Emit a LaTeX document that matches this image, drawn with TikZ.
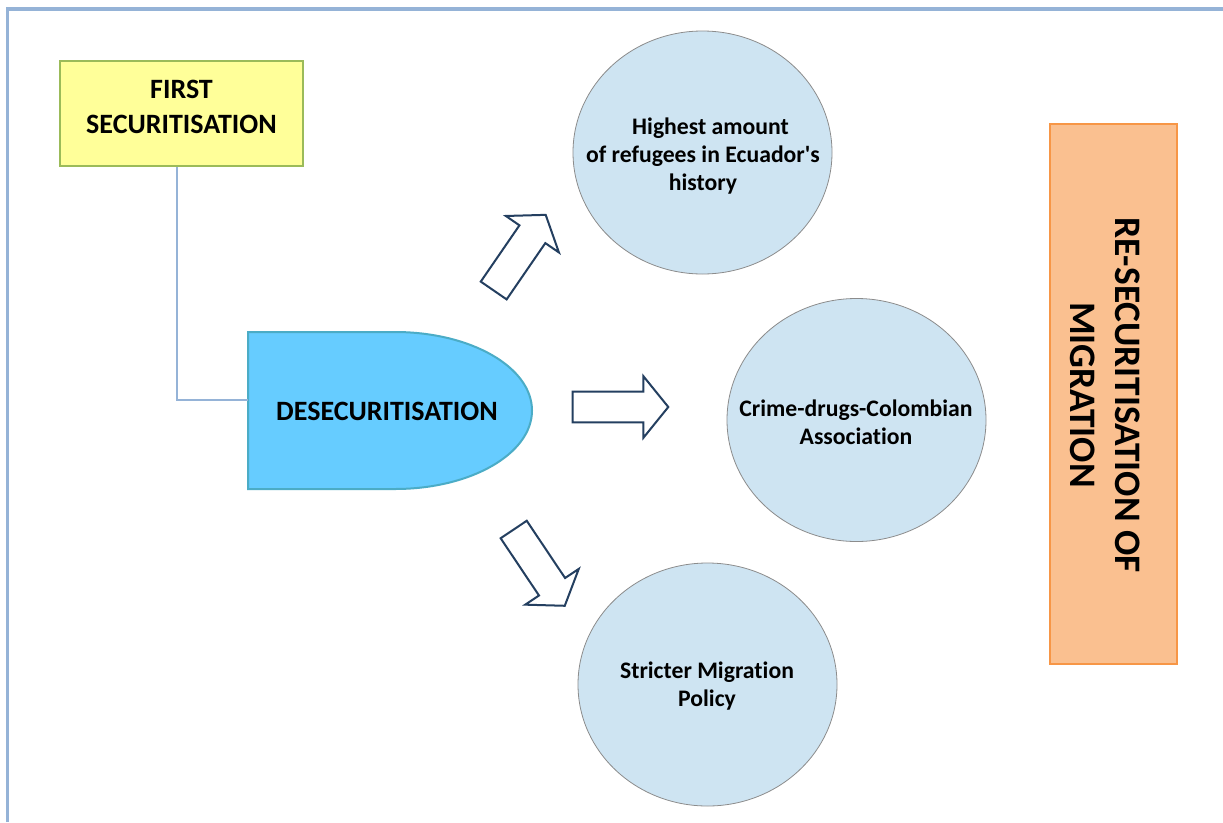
\documentclass[tikz,border=0pt]{standalone}
\usepackage{fontspec}
\setmainfont{Carlito}[Ligatures={TeXOff,NoCommon}]
\usetikzlibrary{shapes.geometric}
\definecolor{framecol}{HTML}{95B3D7}
\definecolor{yfill}{HTML}{FFFF99}
\definecolor{ygreen}{HTML}{9BBB59}
\definecolor{dfill}{HTML}{66CCFF}
\definecolor{dborder}{HTML}{4BACC6}
\definecolor{bubfill}{RGB}{206,228,242}
\definecolor{bubborder}{HTML}{8C8C8C}
\definecolor{ofill}{HTML}{FAC090}
\definecolor{oborder}{HTML}{F79646}
\definecolor{navy}{HTML}{243F60}
\newcommand{\blkarrow}[6]{\draw[barrow, shift={(#1)}, rotate=#2] (0,-#4) -- (#3,-#4) -- (#3,-#5) -- ({#3+#6},0) -- (#3,#5) -- (#3,#4) -- (0,#4) -- cycle;}
\tikzset{
  framestyle/.style={draw=framecol, line width=3.5},
  conn/.style={draw=framecol, line width=2},
  firstbox/.style={draw=ygreen, fill=yfill, line width=2.5, minimum width=243, minimum height=105, inner sep=0},
  bigtxt/.style={font=\fontsize{28}{35}\selectfont\bfseries, align=center, inner sep=0},
  desecshape/.style={draw=dborder, fill=dfill, line width=2},
  bub/.style={ellipse, draw=bubborder, fill=bubfill, line width=0.8, minimum width=259, minimum height=243, inner sep=0},
  bubtxt/.style={font=\fontsize{23.7}{28}\selectfont\bfseries, align=center, inner sep=0},
  obox/.style={draw=oborder, fill=ofill, line width=2.5, minimum width=127, minimum height=540, inner sep=0},
  otxt/.style={font=\fontsize{37.4}{45}\selectfont\bfseries, align=center, inner sep=0, rotate=-90},
  barrow/.style={draw=navy, fill=white, line width=2, line join=miter}
}
\begin{document}
\begin{tikzpicture}[x=1pt,y=-1pt]
\useasboundingbox (0,0) rectangle (1223,822);
\fill[white] (0,0) rectangle (1223,822);
\draw[framestyle] (7.3,822) -- (7.3,9.2) -- (1223,9.2);

% first securitisation
\node[firstbox] (first) at (181.5,113.5) {};
\node[bigtxt] (firstlbl) at (181.5,107) {FIRST\\SECURITISATION};

% desecuritisation
\draw[desecshape] (248,332) -- (395,332) arc[start angle=-90, end angle=90, x radius=137, y radius=78.5] -- (248,489) -- cycle;
\node[minimum width=283, minimum height=157, inner sep=0] (desec) at (389.5,410.5) {};
\node[bigtxt] (desectxt) at (387,411) {DESECURITISATION};

\draw[conn] ([xshift=-4.8pt]first.south) |- ([yshift=10.5pt]desec.west);

% bubbles
\node[bub] (c1) at (702.5,152.5) {};
\node[bubtxt] (t1) at (703,156) {\hspace*{15pt}Highest amount\\of refugees in Ecuador's\\history};
\node[bub] (c2) at (856.5,420) {};
\node[bubtxt] (t2) at (856,422) {Crime-drugs-Colombian\\Association};
\node[bub] (c3) at (707.5,684.5) {};
\node[bubtxt] (t3) at (707,686) {Stricter Migration\\Policy};

% block arrows
\blkarrow{493.7,290.5}{55.5}{68.3}{15.7}{32.2}{23.5}
\blkarrow{572.7,407}{0}{70.6}{15.3}{30.9}{25}
\blkarrow{513.7,529.5}{-56.2}{68.9}{15.7}{32.2}{22.9}

% re-securitisation
\node[obox] (resec) at (1113.5,394) {};
\node[otxt] (resectxt) at (1105,395) {RE-SECURITISATION OF\\MIGRATION};
\end{tikzpicture}
\end{document}
